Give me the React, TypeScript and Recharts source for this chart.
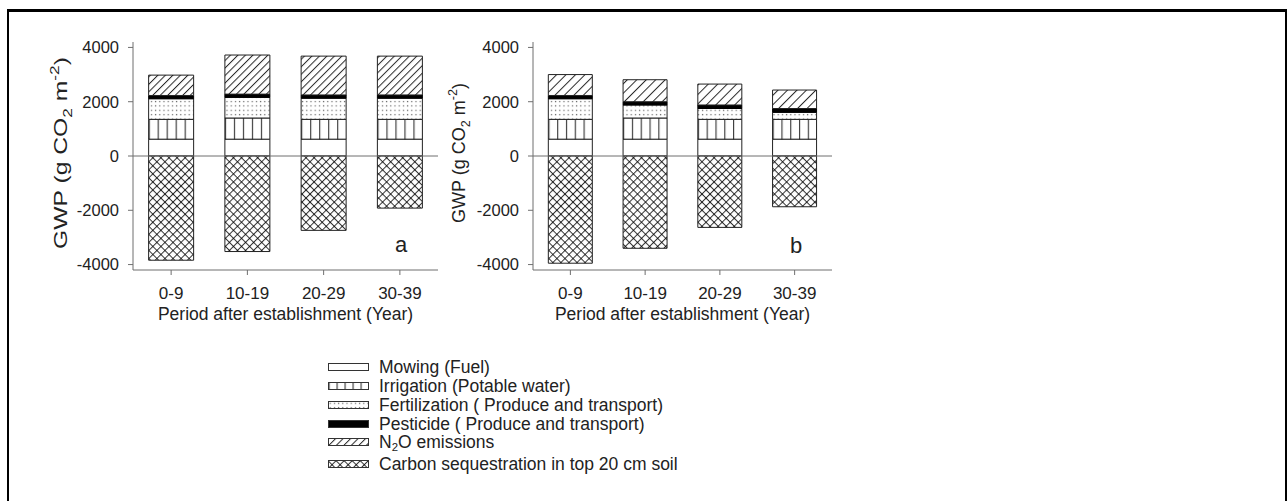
import React from "react";
import { BarChart, Bar, XAxis, YAxis, ReferenceLine } from "recharts";

const periods = ["0-9", "10-19", "20-29", "30-39"];
const yTicks = [-4000, -2000, 0, 2000, 4000];

// panel a
const mowingA = [620, 620, 620, 620];
const irrigationA = [730, 780, 730, 730];
const fertilizationA = [760, 760, 780, 780];
const pesticideA = [120, 120, 120, 120];
const n2oA = [750, 1440, 1430, 1430];
const carbonA = [-3840, -3520, -2740, -1920];

// panel b
const mowingB = [620, 620, 620, 620];
const irrigationB = [730, 780, 730, 730];
const fertilizationB = [760, 480, 400, 260];
const pesticideB = [120, 120, 130, 140];
const n2oB = [770, 810, 770, 680];
const carbonB = [-3950, -3400, -2630, -1870];

const AXIS = "#6f6f6f";
const INK = "#222";
const FONT = '"Liberation Sans", Arial, sans-serif';

function buildRows(mow: number[], irr: number[], fer: number[], pes: number[], n2o: number[], car: number[]) {
  return periods.map((p, i) => ({
    period: p,
    mowing: mow[i],
    irrigation: irr[i],
    fertilization: fer[i],
    pesticide: pes[i],
    n2o: n2o[i],
    carbon: car[i],
  }));
}

const rowsA = buildRows(mowingA, irrigationA, fertilizationA, pesticideA, n2oA, carbonA);
const rowsB = buildRows(mowingB, irrigationB, fertilizationB, pesticideB, n2oB, carbonB);

function Patterns() {
  return (
    <svg width={0} height={0} style={{ position: "absolute" }}>
      <defs>
        <pattern id="pVert" patternUnits="objectBoundingBox" width={0.2} height={1}>
          <rect width={100} height={2000} fill="#fff" />
          <line x1={0.6} y1={0} x2={0.6} y2={2000} stroke="#333" strokeWidth={1.1} />
        </pattern>
        <pattern id="pDots" patternUnits="userSpaceOnUse" width={4.2} height={4.4}>
          <rect width={4.2} height={4.4} fill="#fff" />
          <rect x={1.6} y={1.7} width={1.2} height={1.2} fill="#666" />
        </pattern>
        <pattern id="pDiagA" patternUnits="userSpaceOnUse" width={5.3} height={10} patternTransform="rotate(45)">
          <rect width={5.3} height={10} fill="#fff" />
          <line x1={0.5} y1={0} x2={0.5} y2={10} stroke="#2a2a2a" strokeWidth={1} />
        </pattern>
        <pattern id="pDiagB" patternUnits="userSpaceOnUse" width={6.7} height={10} patternTransform="rotate(45)">
          <rect width={6.7} height={10} fill="#fff" />
          <line x1={0.5} y1={0} x2={0.5} y2={10} stroke="#2a2a2a" strokeWidth={1} />
        </pattern>
        <pattern id="pCross" patternUnits="userSpaceOnUse" width={5.7} height={5.7} patternTransform="rotate(45)">
          <rect width={5.7} height={5.7} fill="#fff" />
          <line x1={0.5} y1={0} x2={0.5} y2={5.7} stroke="#333" strokeWidth={1} />
          <line x1={0} y1={0.5} x2={5.7} y2={0.5} stroke="#333" strokeWidth={1} />
          <rect x={0} y={0} width={1.2} height={1.2} fill="#111" />
        </pattern>
      </defs>
    </svg>
  );
}

function YTitle({ px, py, size, sx }: any) {
  return (
    <text
      transform={`translate(${px},${py}) rotate(-90) scale(${sx},1)`}
      textAnchor="middle"
      fontSize={size}
      fill={INK}
      fontFamily={FONT}
    >
      <tspan>GWP (g CO</tspan>
      <tspan fontSize={size * 0.7} dy={size * 0.25}>2</tspan>
      <tspan dy={-size * 0.25}> m</tspan>
      <tspan fontSize={size * 0.7} dy={-size * 0.42}>-2</tspan>
      <tspan dy={size * 0.42}>)</tspan>
    </text>
  );
}

function XTitle({ viewBox }: any) {
  const cx = viewBox ? viewBox.x + viewBox.width / 2 : 245;
  const y = viewBox ? viewBox.y + 50 : 300;
  return (
    <text x={cx} y={y} textAnchor="middle" fontSize={17.5} fill={INK} fontFamily={FONT}>
      Period after establishment (Year)
    </text>
  );
}

function Panel({ rows, left, rightMargin, diagId, yTitle }: any) {
  return (
    <div style={{ position: "absolute", left, top: 20 }}>
      <BarChart
        width={420}
        height={308}
        data={rows}
        stackOffset="sign"
        barCategoryGap="20.5%"
        margin={{ top: 22, right: rightMargin, bottom: 0, left: 0 }}
      >
        <XAxis
          dataKey="period"
          height={58}
          interval={0}
          tickSize={5}
          tickMargin={12}
          axisLine={{ stroke: AXIS }}
          tickLine={{ stroke: AXIS }}
          tick={{ fill: INK, fontSize: 17 }}
          label={<XTitle />}
        />
        <XAxis
          xAxisId="top"
          orientation="top"
          dataKey="period"
          height={0}
          tick={false}
          tickLine={false}
          axisLine={{ stroke: AXIS }}
        />
        <YAxis
          domain={[-4200, 4200]}
          ticks={yTicks}
          allowDataOverflow
          width={93}
          tickSize={5}
          tickMargin={9}
          axisLine={{ stroke: AXIS }}
          tickLine={{ stroke: AXIS }}
          tick={{ fill: INK, fontSize: 16.5 }}
          label={yTitle}
        />
        <YAxis
          yAxisId="right"
          orientation="right"
          domain={[-4200, 4200]}
          allowDataOverflow
          width={0}
          tick={false}
          tickLine={false}
          axisLine={{ stroke: AXIS }}
        />
        <ReferenceLine y={0} stroke={AXIS} strokeWidth={1} />
        <Bar dataKey="mowing" stackId="s" fill="#fff" stroke={INK} strokeWidth={1} isAnimationActive={false} />
        <Bar dataKey="irrigation" stackId="s" fill="url(#pVert)" stroke={INK} strokeWidth={1} isAnimationActive={false} />
        <Bar dataKey="fertilization" stackId="s" fill="url(#pDots)" stroke={INK} strokeWidth={1} isAnimationActive={false} />
        <Bar dataKey="pesticide" stackId="s" fill="#000" stroke="#000" strokeWidth={1} isAnimationActive={false} />
        <Bar dataKey="n2o" stackId="s" fill={`url(#${diagId})`} stroke={INK} strokeWidth={1} isAnimationActive={false} />
        <Bar dataKey="carbon" stackId="s" fill="url(#pCross)" stroke={INK} strokeWidth={1} isAnimationActive={false} />
      </BarChart>
    </div>
  );
}

const subStyle: React.CSSProperties = {
  fontSize: "65%",
  lineHeight: 0,
  verticalAlign: "baseline",
  position: "relative",
  top: "0.28em",
};

const legendItems = [
  { fill: "#fff", label: <>Mowing (Fuel)</> },
  { fill: "url(#pVert)", label: <>Irrigation (Potable water)</> },
  { fill: "url(#pDots)", label: <>Fertilization ( Produce and transport)</> },
  { fill: "#000", label: <>Pesticide ( Produce and transport)</> },
  { fill: "url(#pDiagA)", label: <>N<span style={subStyle}>2</span>O emissions</> },
  { fill: "url(#pCross)", label: <>Carbon sequestration in top 20 cm soil</> },
];

const rowGaps = [0, 1, 0, 0, 0, 3];

function LegendBox() {
  return (
    <div style={{ position: "absolute", left: 328, top: 357.5, fontSize: 17.5, color: INK }}>
      {legendItems.map((it, i) => (
        <div
          key={i}
          style={{ display: "flex", alignItems: "center", height: 18.6, marginTop: rowGaps[i], whiteSpace: "nowrap" }}
        >
          <svg width={41} height={8} style={{ marginRight: 10, flex: "none" }}>
            <rect x={0.5} y={0.5} width={40} height={7} fill={it.fill} stroke="#333" strokeWidth={1} />
          </svg>
          <span style={{ lineHeight: "18px" }}>{it.label}</span>
        </div>
      ))}
    </div>
  );
}

export default function App() {
  return (
    <div
      style={{
        position: "fixed",
        left: 0,
        top: 0,
        width: 1287,
        height: 501,
        overflow: "hidden",
        background: "#fff",
        fontFamily: FONT,
      }}
    >
      <Patterns />
      <div
        style={{
          position: "absolute",
          left: 7,
          top: 9,
          width: 1280,
          height: 520,
          boxSizing: "border-box",
          borderTop: "3px solid #000",
          borderLeft: "2px solid #000",
          borderRight: "2px solid #000",
        }}
      />
      <Panel
        rows={rowsA}
        left={40}
        rightMargin={22}
        diagId="pDiagA"
        yTitle={<YTitle px={27} py={133} size={19} sx={1.3} />}
      />
      <Panel
        rows={rowsB}
        left={440}
        rightMargin={28}
        diagId="pDiagB"
        yTitle={<YTitle px={25} py={133} size={18} sx={1} />}
      />
      <div style={{ position: "absolute", left: 401, top: 234.4, transform: "translateX(-50%)", fontSize: 22, lineHeight: "22px", color: INK }}>
        a
      </div>
      <div style={{ position: "absolute", left: 796, top: 235.4, transform: "translateX(-50%)", fontSize: 22, lineHeight: "22px", color: INK }}>
        b
      </div>
      <LegendBox />
    </div>
  );
}
